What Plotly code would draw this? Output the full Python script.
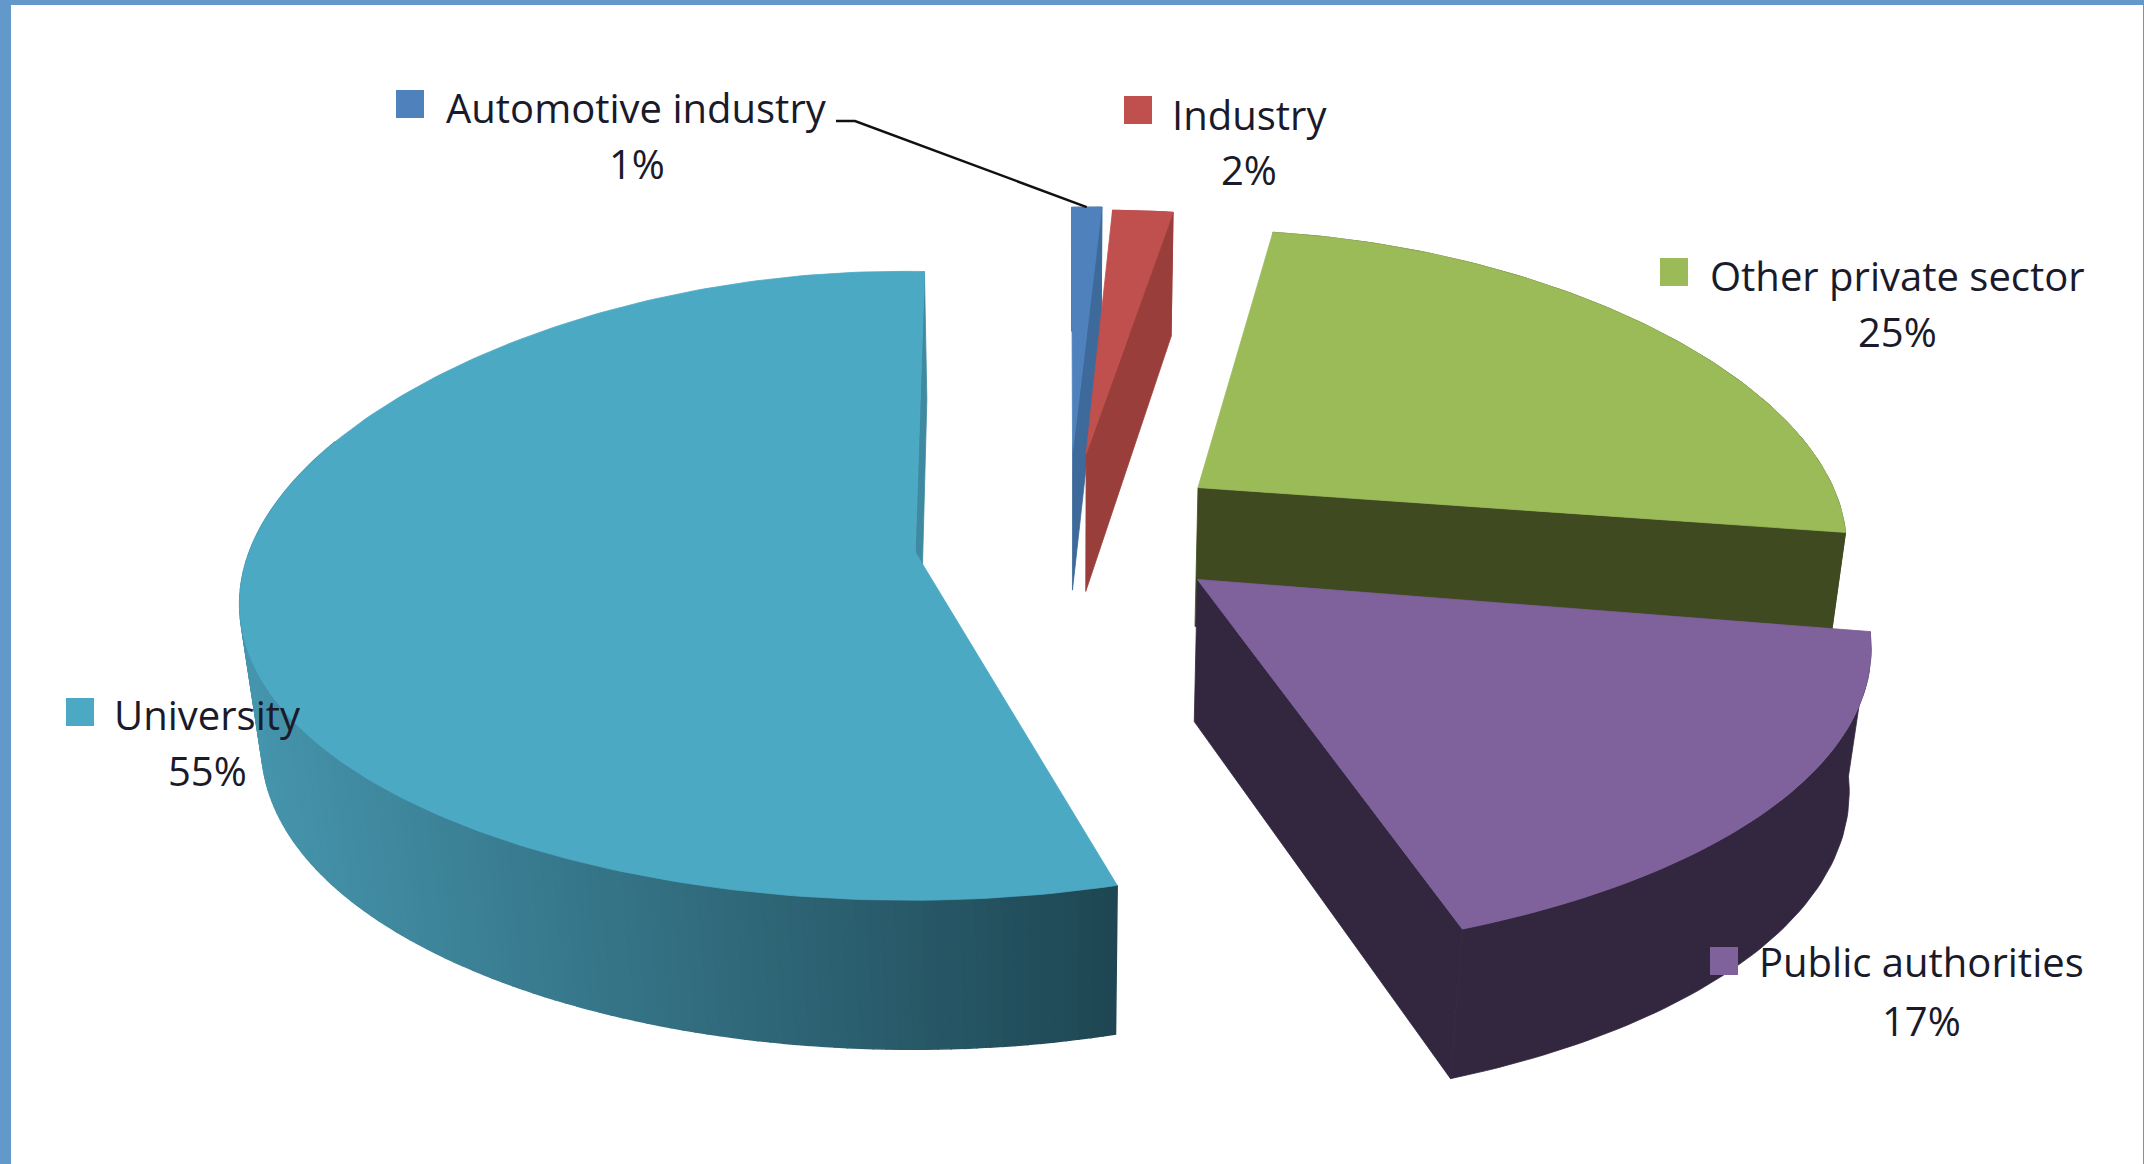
import numpy as np
import plotly.graph_objects as go

# Share of each sector, in pie order (clockwise from twelve o'clock)
sectors = ["Automotive industry", "Industry", "Other private sector", "Public authorities", "University"]
shares = [1, 2, 25, 17, 55]

top_colors = ["#4F81BD", "#C0504D", "#9BBB59", "#7F619C", "#4BA9C4"]
wall_colors = ["#3D6A9A", "#9A3E3B", "#3F4A20", "#32273F", "#3F8AA0"]

# Camera model of the tilted disc, in page pixels
CX, CY = 1068.0, 530.5
SCALE_X, SCALE_Y = 650.0, 312.0
THICK = 144.0
PERSP_X = (0.22, 0.05)    # linear and quadratic falloff across the disc
PERSP_Y = (0.14, 0.02)
PERSP_DEPTH = 0.026
EXPLODE = 0.235
# Per-slice screen adjustments (same order as sectors)
shift = [(0, -3), (0, 0), (4, 0), (-1, 13), (-15, 4)]
apex_shift = [(0, -4), (0, -6), (2, 0), (10, -10), (14, 9)]
roll = [0.02, 0.02, 0.02, 0.03, -0.02]
shear = [0, 0, -10, 12, 9]
width_scale = [1, 1, 1, 0.985, 0.98]

# Label placement: key square centre, name centre, percent centre
key_pos = [(410, 104), (1138, 110), (1674, 272), (1724, 961), (80, 712)]
name_pos = [(636, 107), (1249, 114), (1897, 275), (1921, 961), (207, 714)]
pct_pos = [(637, 163), (1249, 169), (1897, 331), (1921, 1020), (207, 770)]
leader_start = [(836, 121), (855, 121)]

# University rim darkens towards its front edge
rim_light = np.array([70, 150, 174])
rim_dark = np.array([30, 70, 82])


def project(u, v, depth, i):
    """Map disc coordinates (u right, v towards viewer, depth 0..1 down) to the page for slice i."""
    wx = 1 - PERSP_X[0] * v + PERSP_X[1] * v * v + PERSP_DEPTH * depth
    wy = 1 - PERSP_Y[0] * v + PERSP_Y[1] * v * v + PERSP_DEPTH * depth
    sx = SCALE_X * u / wx
    sy = (SCALE_Y * v + THICK * depth) / wy - roll[i] * sx
    return (CX + sx + shear[i] * v + shift[i][0], CY + sy + shift[i][1])


def polygon(fig, pts, color, width=0.8):
    xs, ys = zip(*pts)
    fig.add_trace(go.Scatter(x=list(xs) + [xs[0]], y=list(ys) + [ys[0]], mode="lines",
                             fill="toself", fillcolor=color,
                             line=dict(color=color, width=width),
                             hoverinfo="skip", showlegend=False))


fig = go.Figure()

edges = np.concatenate([[0], np.cumsum(shares)]) / sum(shares) * 2 * np.pi

for i in range(len(shares)):
    a0, a1 = edges[i], edges[i + 1]
    mid = (a0 + a1) / 2
    eu, ev = EXPLODE * np.sin(mid), -EXPLODE * np.cos(mid)
    thetas = np.linspace(a0, a1, max(3, int(np.degrees(a1 - a0)) + 2))

    def rim(t, d):
        return project(eu + width_scale[i] * np.sin(t), ev - np.cos(t), d, i)

    at = project(eu, ev, 0, i)
    ab = project(eu, ev, 1, i)
    apex_top = (at[0] + apex_shift[i][0], at[1] + apex_shift[i][1])
    apex_bot = (ab[0] + apex_shift[i][0], ab[1] + apex_shift[i][1])

    # Cut face on the clockwise end of the slice
    polygon(fig, [apex_top, rim(a1, 0), rim(a1, 1), apex_bot], wall_colors[i])

    # Outer wall: the University rim is split into strips to carry a gradient
    if i == 4:
        front = [t for t in thetas if np.cos(t) < 0.3]
        for t0, t1 in zip(front[:-1], front[1:]):
            px = rim((t0 + t1) / 2, 1)[0]
            f = np.clip((px - 250) / (1122 - 250), 0, 1)
            c = rim_light + (rim_dark - rim_light) * f
            polygon(fig, [rim(t0, 0), rim(t1, 0), rim(t1, 1), rim(t0, 1)],
                    f"rgb({c[0]:.0f},{c[1]:.0f},{c[2]:.0f})", width=1.5)
    else:
        polygon(fig, [rim(t, 0) for t in thetas] + [rim(t, 1) for t in thetas[::-1]], wall_colors[i])

    # Top face
    polygon(fig, [apex_top] + [rim(t, 0) for t in thetas], top_colors[i])

# Leader line from the first label to its slice
a_mid = (edges[0] + edges[1]) / 2
lead_end = project(EXPLODE * np.sin(a_mid) + np.sin(a_mid),
                   -EXPLODE * np.cos(a_mid) - np.cos(a_mid), 0, 0)
lx = [p[0] for p in leader_start] + [lead_end[0]]
ly = [p[1] for p in leader_start] + [lead_end[1]]
fig.add_trace(go.Scatter(x=lx, y=ly, mode="lines", line=dict(color="#111111", width=2.5),
                         hoverinfo="skip", showlegend=False))

# Key squares
fig.add_trace(go.Scatter(x=[p[0] for p in key_pos], y=[p[1] for p in key_pos], mode="markers",
                         marker=dict(symbol="square", size=28, color=top_colors, line=dict(width=0)),
                         hoverinfo="skip", showlegend=False))

# Names and percentages
font = dict(family="Open Sans", size=40, color="#1A1A2A")
for name, share, np_, pp in zip(sectors, shares, name_pos, pct_pos):
    fig.add_annotation(x=np_[0], y=np_[1], text=name, showarrow=False, font=font,
                       xanchor="center", yanchor="middle")
    fig.add_annotation(x=pp[0], y=pp[1], text=f"{share}%", showarrow=False, font=font,
                       xanchor="center", yanchor="middle")

# Window frame around the chart
frame = "#6398CA"
fig.add_shape(type="rect", x0=0, x1=2144, y0=0, y1=5, fillcolor=frame, line_width=0)
fig.add_shape(type="rect", x0=0, x1=11, y0=0, y1=1164, fillcolor=frame, line_width=0)
fig.add_shape(type="rect", x0=2143, x1=2144, y0=0, y1=1164, fillcolor=frame, line_width=0)

fig.update_layout(width=2144, height=1164, margin=dict(l=0, r=0, t=0, b=0),
                  paper_bgcolor="white", plot_bgcolor="white", showlegend=False,
                  xaxis=dict(range=[0, 2144], visible=False, fixedrange=True),
                  yaxis=dict(range=[1164, 0], visible=False, fixedrange=True))

fig.write_html("out.html")
